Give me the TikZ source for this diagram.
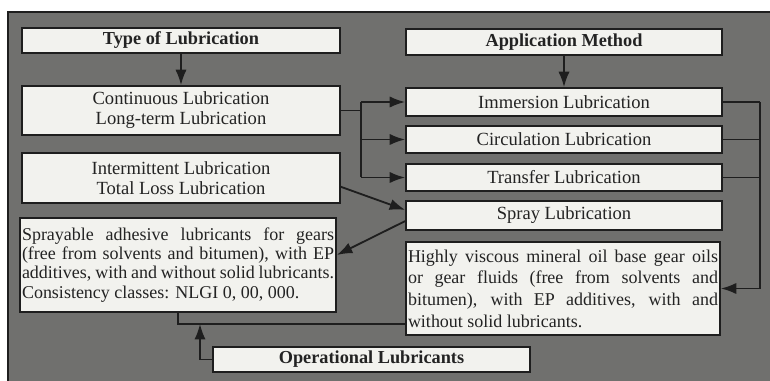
\documentclass[tikz,border=0pt]{standalone}
\usepackage{fontspec}
\setmainfont{Liberation Serif}
\usetikzlibrary{arrows.meta}
\usetikzlibrary{calc}

\definecolor{panelgray}{RGB}{112,112,110}
\definecolor{boxfill}{RGB}{242,242,238}
\definecolor{boxline}{RGB}{30,30,30}
\definecolor{inkcol}{RGB}{35,35,35}

\tikzset{
	lubbox/.style={draw=boxline, fill=boxfill, line width=1.2pt, inner sep=0pt, text=inkcol,
		font=\fontsize{13.2}{14.2}\selectfont, align=center},
	headbox/.style={lubbox, font=\fontsize{13}{14}\selectfont\bfseries},
	parbox/.style={lubbox, inner xsep=0.05cm, align=justify},
	link/.style={draw=boxline, line width=1.3pt},
}

\begin{document}
\begin{tikzpicture}[>={Latex[length=11pt,width=8pt]}]

	% page and gray panel
	\fill[white] (0,0) rectangle (19.25,9.525);
	\useasboundingbox (0,0) rectangle (19.25,9.525);
	\filldraw[panelgray, draw=boxline, line width=1pt] (0.2,-0.1) rectangle (19.35,9.225);

	% left column: type of lubrication
	\node[headbox, minimum width=7.95cm, minimum height=0.625cm] (type) at (4.525,8.5125) {Type of Lubrication};
	\node[lubbox, minimum width=7.95cm, minimum height=1.225cm] (cont) at (4.525,6.7625) {Continuous Lubrication\\Long-term Lubrication};
	\node[lubbox, minimum width=7.95cm, minimum height=1.25cm] (inter) at (4.525,5.075) {Intermittent Lubrication\\Total Loss Lubrication};
	\node[parbox, text width=7.8cm, minimum height=2.35cm, font=\fontsize{12.8}{13.6}\selectfont] (adh) at (4.45,2.9)
		{Sprayable adhesive lubricants for gears \linebreak (free from solvents and bitumen), with EP \linebreak additives, with and without solid lubricants. \linebreak Consistency classes: NLGI 0, 00, 000.};

	% right column: application method
	\node[headbox, minimum width=7.9cm, minimum height=0.65cm] (appl) at (14.1,8.475) {Application Method};
	\node[lubbox, minimum width=7.9cm, minimum height=0.7cm] (imm) at (14.1,6.975) {Immersion Lubrication};
	\node[lubbox, minimum width=7.9cm, minimum height=0.675cm] (circ) at (14.1,6.0375) {Circulation Lubrication};
	\node[lubbox, minimum width=7.9cm, minimum height=0.675cm] (trans) at (14.1,5.0875) {Transfer Lubrication};
	\node[lubbox, minimum width=7.9cm, minimum height=0.725cm] (spray) at (14.1,4.1375) {Spray Lubrication};
	\node[parbox, text width=7.75cm, minimum height=2.325cm, font=\fontsize{12.8}{15.4}\selectfont] (visc) at (14.075,2.3125)
		{Highly viscous mineral oil base gear oils \linebreak or gear fluids (free from solvents and \linebreak bitumen), with EP additives, with and \linebreak without solid lubricants.};

	% bottom
	\node[headbox, minimum width=7.925cm, minimum height=0.625cm] (oper) at (9.2875,0.5375) {Operational Lubricants};

	% heads down to first choice
	\draw[link,->] (type) -- (cont);
	\draw[link,->] (appl) -- (imm);

	% continuous lubrication fans out
	\coordinate (split) at (9.025,6.7625);
	\draw[link] (cont.east) -- (split);
	\draw[link] (split |- imm.west) -- (split |- trans.west);
	\foreach \n in {imm,circ,trans} {
		\draw[link,->] (split |- \n.west) -- (\n.west);
	}

	% intermittent lubrication goes to spray
	\draw[link,->] ([yshift=-0.22cm]inter.east) -- ([yshift=0.14cm]spray.west);
	\draw[link,->] ([yshift=-0.14cm]spray.west) -- ([yshift=0.25cm]adh.east);

	% right bus down to the gear oils
	\coordinate (bus) at (19.0,6.975);
	\foreach \n in {imm,circ,trans} {
		\draw[link] (\n.east) -- (bus |- \n.east);
	}
	\draw[link,->] (bus) |- (visc.east);

	% operational lubricants join both
	\coordinate (join) at (5.0,1.425);
	\draw[link] (adh.south) |- (visc.west |- join);
	\draw[link,->] (oper.west) -| (join);

\end{tikzpicture}
\end{document}
